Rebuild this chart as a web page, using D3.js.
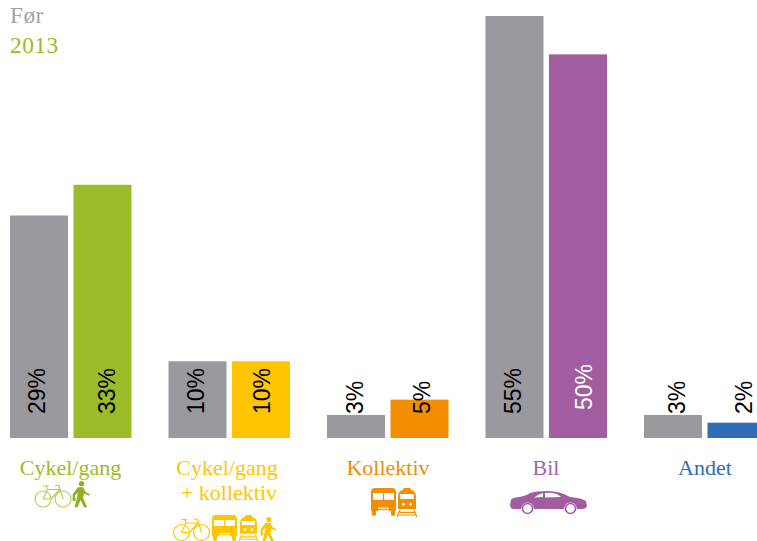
<!DOCTYPE html>
<html>
<head>
<meta charset="utf-8">
<script src="https://cdnjs.cloudflare.com/ajax/libs/d3/7.8.5/d3.min.js"></script>
<style>
  html, body { margin: 0; padding: 0; background: #fff; overflow: hidden; }
  svg { display: block; }
  .pct { font-family: "Liberation Sans", sans-serif; font-size: 23px; }
  .lab { font-family: "Liberation Serif", serif; font-size: 22px; }
  .leg { font-family: "Liberation Serif", serif; font-size: 23.5px; letter-spacing: 0.4px; }
</style>
</head>
<body>
<script>
// Data
var categories = ["Cykel/gang", "Cykel/gang\n+ kollektiv", "Kollektiv", "Bil", "Andet"];
var before     = [29, 10, 3, 55, 3];
var after      = [33, 10, 5, 50, 2];
var colors     = ["#9bbb28", "#ffc600", "#f28e00", "#a25ca0", "#2f6db5"];
var labelColors = ["#9bbb28", "#ffc600", "#f28e00", "#a862a8", "#2f6db5"];
var afterLabelColors = ["#000", "#000", "#000", "#fff", "#000"];
var greyBar = "#9a999e";
var legend = [{ text: "Før", color: "#a3a3a3" }, { text: "2013", color: "#9bbb28" }];

var width = 757, height = 541, base = 438;

// Label nudges, the original text boxes are not centred on the bars
var beforeNudge = [-2, -2, -1, -1.5, 4];
var afterNudge  = [4, 1, 2, 6, 7];
var afterLift   = [0, 0, 0, 4, 0];

var svg = d3.select("body").append("svg").attr("width", width).attr("height", height);

var x = d3.scaleBand().domain(d3.range(categories.length)).range([10, 10 + 158.5 * 5]);
var inner = d3.scaleOrdinal().domain(["before", "after"]).range([0, 63.5]);
var barW = 58;
var y = d3.scaleLinear().domain([0, 55]).range([base, 16]);

// Bars
var groups = svg.selectAll("g.group").data(categories).join("g")
  .attr("class", "group")
  .attr("transform", function(d, i){ return "translate(" + x(i) + ",0)"; });

function bars(key, values, fill){
  groups.append("rect")
    .attr("x", inner(key))
    .attr("y", function(d, i){ return y(values[i]); })
    .attr("width", barW)
    .attr("height", function(d, i){ return base - y(values[i]); })
    .attr("fill", fill);
}
bars("before", before, greyBar);
bars("after", after, function(d, i){ return colors[i]; });

function pct(key, values, fill, nudge, lift){
  groups.append("text")
    .attr("class", "pct")
    .style("fill", fill)
    .attr("transform", function(d, i){
      return "translate(" + (inner(key) + barW / 2 + 8 + nudge[i]) + "," + (base - 24 - (lift ? lift[i] : 0)) + ") rotate(-90)";
    })
    .text(function(d, i){ return values[i] + "%"; });
}
pct("before", before, "#000", beforeNudge);
pct("after", after, function(d, i){ return afterLabelColors[i]; }, afterNudge, afterLift);

// Category labels
var labelX = [70.5, 227, 388, 546, 705];
categories.forEach(function(c, i){
  c.split("\n").forEach(function(line, j){
    svg.append("text").attr("class", "lab")
      .attr("x", labelX[i] + (j ? 2 : 0))
      .attr("y", 475 + j * 25)
      .attr("text-anchor", "middle")
      .attr("fill", labelColors[i])
      .text(line);
  });
});

// Legend
legend.forEach(function(l, i){
  svg.append("text").attr("class", "leg")
    .attr("x", 10).attr("y", 23 + i * 30)
    .attr("fill", l.color)
    .text(l.text);
});

// Icons
function icon(px, py, s){
  return svg.append("g").attr("transform", "translate(" + px + "," + py + ") scale(" + s + ")");
}
function bike(px, py, col){
  var g = icon(px, py, 1).attr("fill", "none").attr("stroke", col).attr("stroke-width", 1.2);
  g.append("circle").attr("cx", 8.5).attr("cy", 14.5).attr("r", 8);
  g.append("circle").attr("cx", 28.5).attr("cy", 14.5).attr("r", 8);
  g.append("path").attr("d", "M8.5 14.5L13 5H25L16.5 14.5H8.5M13 5L11.5 1.5M8.5 1.5H14M16.5 14.5L25 5M28.5 14.5L24.5 1H20.5");
}
function walker(px, py, col, s){
  var g = icon(px, py, s).attr("fill", col);
  g.append("circle").attr("cx", 9.5).attr("cy", 2.5).attr("r", 2.6);
  g.append("path").attr("d", "M6 6H11L13.5 10.5L17.5 12.5L16.8 14L12 12L11 16.5L15 25H12L8.5 18L6 25H3L5.5 15L6 11L3.5 13.5L3.2 16H4L3.6 19H1L1.2 12.5Z");
}
function bus(px, py, w, h, col){
  var g = icon(px, py, 1);
  g.append("path").attr("fill", col).attr("fill-rule", "evenodd").attr("d",
    "M4 0H" + (w - 4) + "Q" + w + " 0 " + w + " 4V" + (h - 5) + "H" + (w - 1) + "V" + (h - 1) + "Q" + (w - 3) + " " + (h + 1) + " " + (w - 5) + " " + (h - 1) + "V" + (h - 5) +
    "H5V" + (h - 1) + "Q3 " + (h + 1) + " 1 " + (h - 1) + "V" + (h - 5) + "H0V4Q0 0 4 0Z" +
    "M2 5V" + (h * 0.42) + "H" + (w / 2 - 0.6) + "V5ZM" + (w / 2 + 0.6) + " 5V" + (h * 0.42) + "H" + (w - 2) + "V5Z");
  g.append("rect").attr("x", 7).attr("y", h * 0.7).attr("width", w - 14).attr("height", 1).attr("fill", "#fff");
  g.append("rect").attr("x", 7).attr("y", h * 0.78).attr("width", w - 14).attr("height", 1).attr("fill", "#fff");
}
function train(px, py, w, h, col){
  var g = icon(px, py, 1);
  g.append("rect").attr("x", w * 0.3).attr("y", 0).attr("width", w * 0.4).attr("height", 2).attr("fill", col);
  g.append("path").attr("fill", col).attr("fill-rule", "evenodd").attr("d",
    "M" + (w * 0.25) + " 2H" + (w * 0.75) + "Q" + w + " 3 " + w + " 9V" + (h * 0.72) + "H0V9Q0 3 " + (w * 0.25) + " 2Z" +
    "M" + (w * 0.12) + " 6V" + (h * 0.38) + "H" + (w * 0.88) + "V6Z");
  g.append("circle").attr("cx", w * 0.3).attr("cy", h * 0.56).attr("r", 1.4).attr("fill", "#fff");
  g.append("circle").attr("cx", w * 0.7).attr("cy", h * 0.56).attr("r", 1.4).attr("fill", "#fff");
  g.append("path").attr("fill", "none").attr("stroke", col).attr("stroke-width", 1.1)
    .attr("d", "M" + (w * 0.12) + " " + (h * 0.74) + "L-1 " + h + "M" + (w * 0.88) + " " + (h * 0.74) + "L" + (w + 1) + " " + h +
      "M" + (w * 0.08) + " " + (h * 0.84) + "H" + (w * 0.92) + "M0 " + (h * 0.93) + "H" + w);
}
function car(px, py, col){
  var g = icon(px, py, 1);
  g.append("path").attr("fill", col).attr("fill-rule", "evenodd").attr("d",
    "M1 9Q2 7 6 6.5Q16 5 20 2Q26 0 38 0Q50 0 60 6Q72 7 76 10L77 15Q76 18 72 18H67Q66 11 60 11.5Q55 12 54 18H24Q23 11 17 11.5Q12 12 11 18H3Q0 17 0 14Z" +
    "M24 6.5Q28 3 33 2V6ZM35 2Q46 1 51 6L35 6.5Z");
  [17.5, 60.5].forEach(function(cx){
    g.append("circle").attr("cx", cx).attr("cy", 17.5).attr("r", 5).attr("fill", "#fff").attr("stroke", col).attr("stroke-width", 1.6);
  });
}
bike(34.5, 484.5, "#b3cf55");
walker(71.5, 481, "#8fb021", 1.05);
bike(173, 518, "#ffc600");
bus(212, 515, 25, 26, "#ffc600");
train(240, 515, 17, 26, "#ffc600");
walker(259.5, 517, "#ffc600", 0.98);
bus(371, 488, 25, 28, "#f28e00");
train(398, 488, 18, 29, "#f28e00");
car(510, 491, "#a25ca0");
</script>
</body>
</html>
